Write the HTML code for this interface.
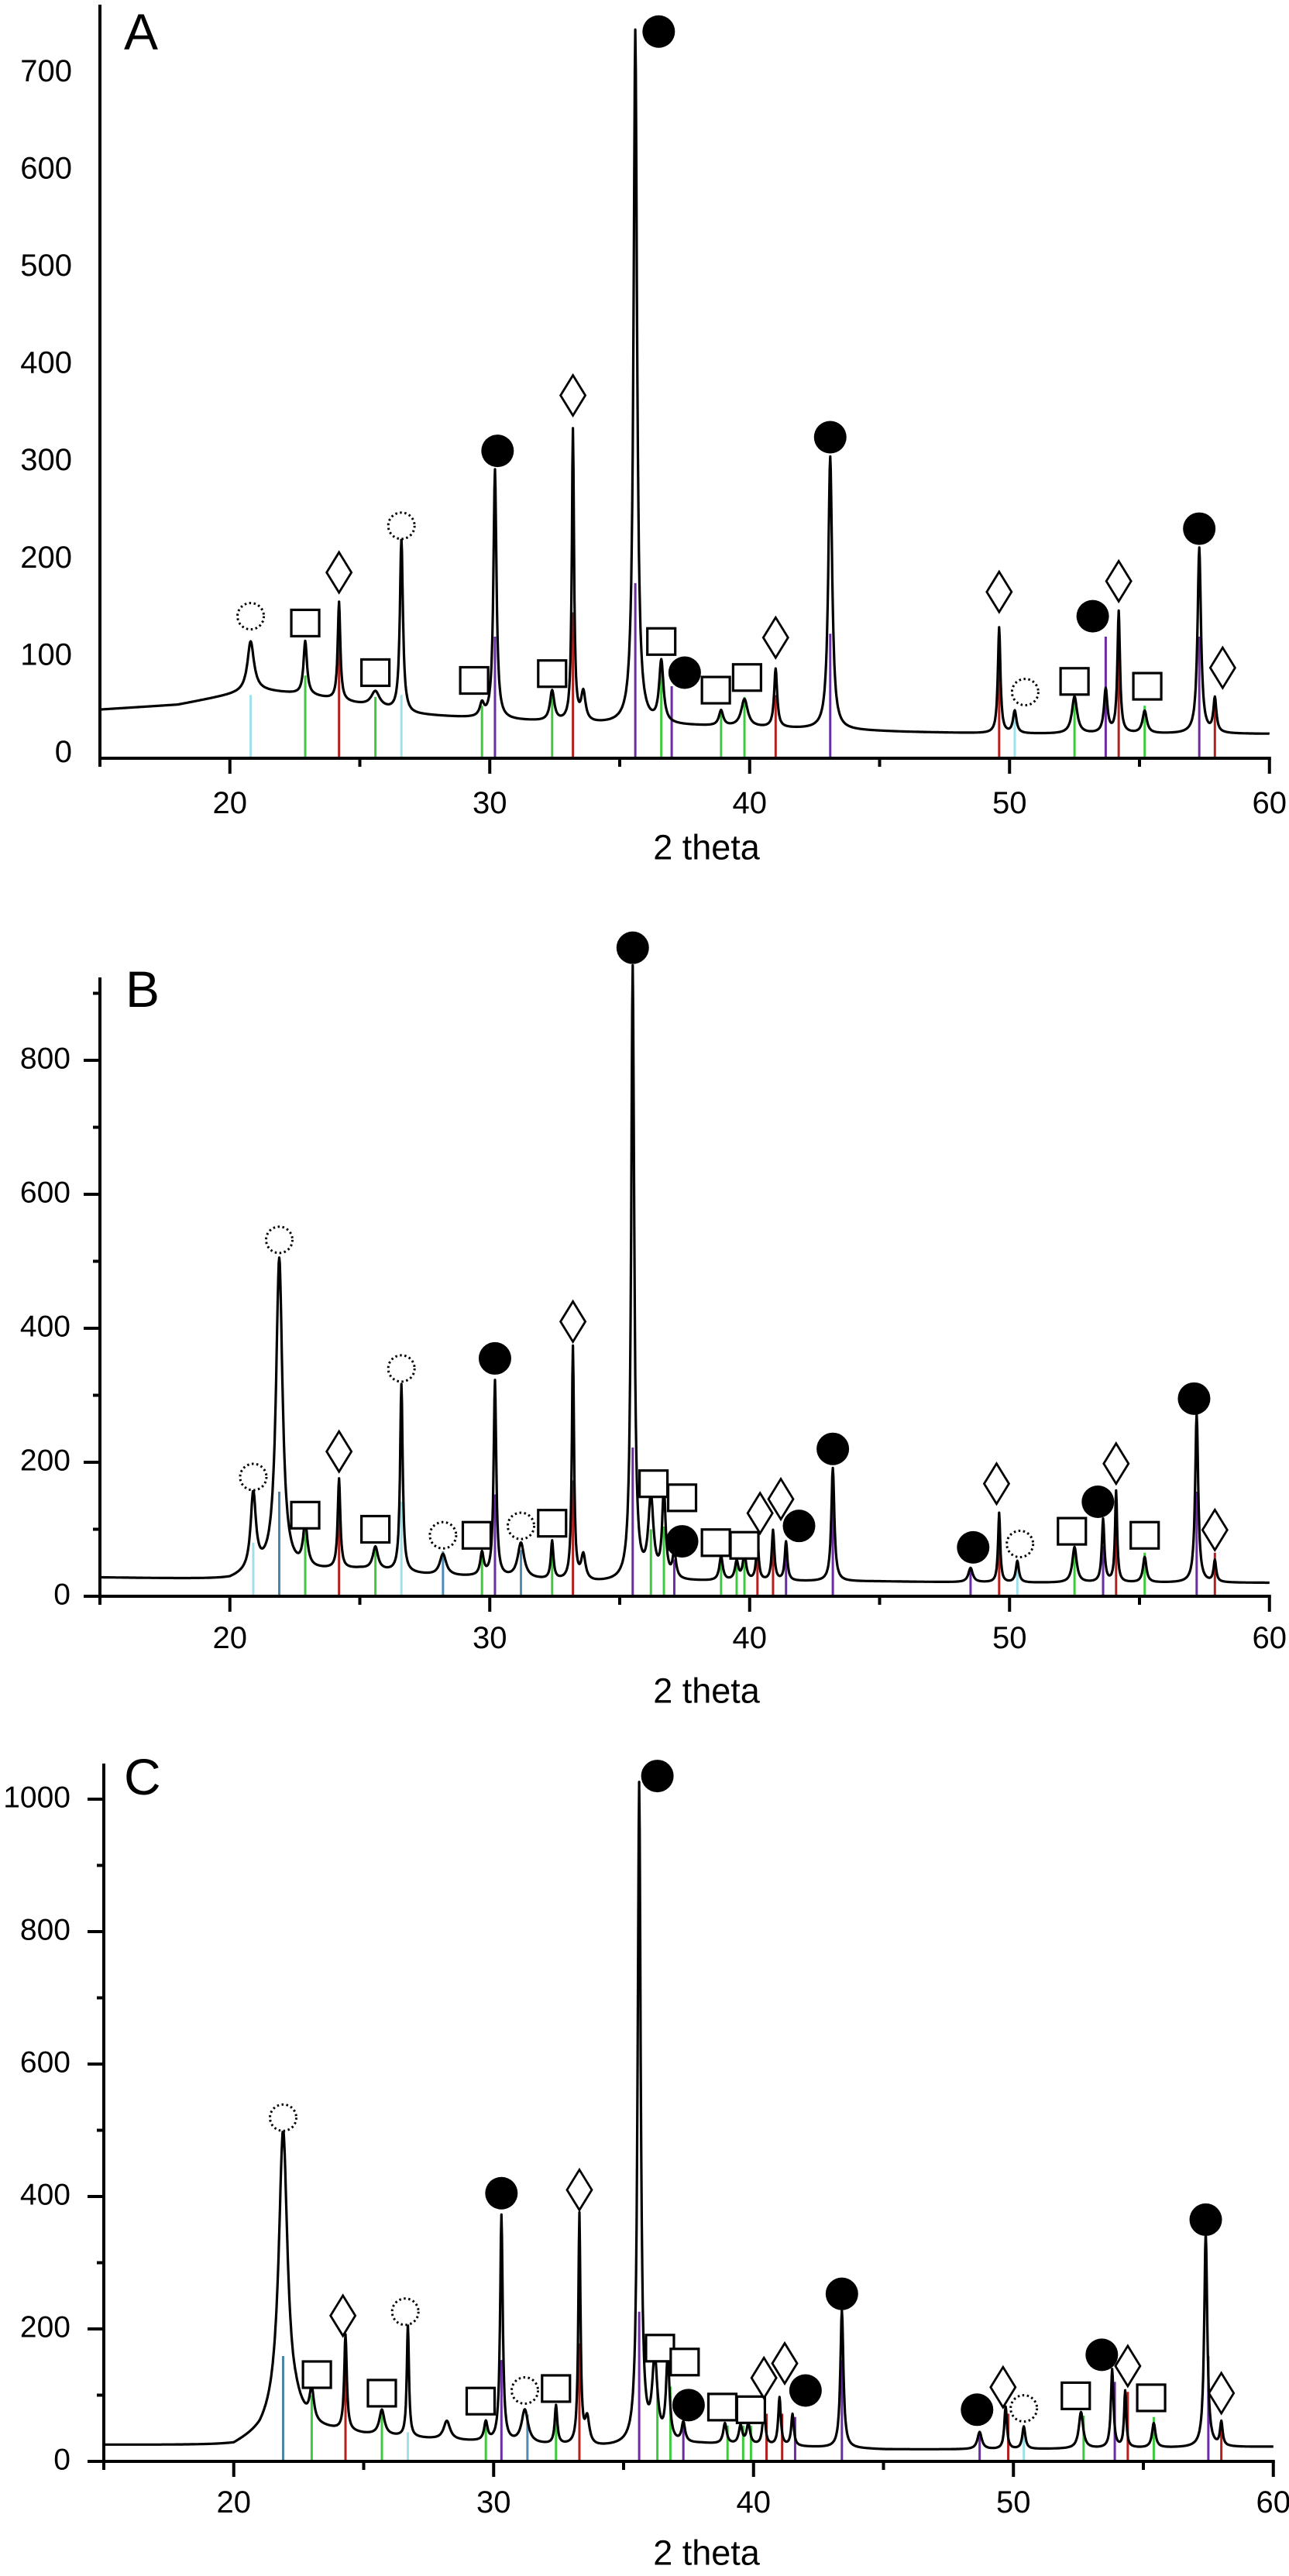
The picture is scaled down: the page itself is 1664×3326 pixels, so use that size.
<!DOCTYPE html>
<html><head><meta charset="utf-8"><title>XRD patterns A B C</title>
<style>
html,body{margin:0;padding:0;background:#fff;}
svg{display:block;}
text{font-family:"Liberation Sans",Arial,sans-serif;fill:#000;}
</style></head>
<body>
<svg id="chart" width="1664" height="3326" viewBox="0 0 1664 3326" xmlns="http://www.w3.org/2000/svg">
<rect x="0" y="0" width="1664" height="3326" fill="#fff"/>
</svg>
<script>
// ---------- Panel A data ----------
const aPeakPos    = [20.8,22.9,24.2,25.6,26.6,29.7,30.2,32.4,33.2,33.6,35.6,36.6,38.9,39.8,41.0,43.1,49.6,50.2,52.5,53.7,54.2,55.2,57.3,57.9];
const aPeakHeight = [120,120,160,68,225,54,296,68,336,65,748,97,48,60,91,310,134,48,63,70,150,48,216,60];
const aPeakWidth  = [0.15,0.08,0.06,0.2,0.07,0.1,0.07,0.1,0.05,0.1,0.08,0.1,0.1,0.15,0.07,0.09,0.06,0.08,0.12,0.08,0.06,0.1,0.08,0.07];
const aBgPos = [15,18,21,23,25,27,30,34,38,42,46,50,55,60];
const aBgVal = [50,55,70,65,55,45,40,35,33,30,27,25,25,25];
const aStickPos    = [20.8,22.9,24.2,25.6,26.6,29.7,30.2,32.4,33.2,35.6,36.6,37.0,38.9,39.8,41.0,43.1,49.6,50.2,52.5,53.7,54.2,55.2,57.3,57.9];
const aStickHeight = [65,85,148,63,65,54,125,63,150,180,97,74,51,63,65,128,100,48,60,125,105,54,125,54];
const aStickPhase  = ['c','g','r','g','c','g','p','g','r','p','g','p','g','g','r','p','r','c','g','p','r','g','p','r'];
const aMarkPos  = [20.8,22.9,24.2,25.6,26.6,29.4,30.3,32.4,33.2,36.5,36.6,37.5,38.7,39.9,41.0,43.1,49.6,50.6,52.5,53.2,54.2,55.3,57.3,58.2];
const aMarkVal  = [146,139,191,88,239,80,316,87,373,747,120,88,70,83,124,330,171,68,79,146,182,74,236,93];
const aMarkType = ['o','s','d','s','o','s','f','s','d','f','s','f','s','s','d','f','d','o','s','f','d','s','f','d'];
const aYTicks = [0,100,200,300,400,500,600,700];
const aXTicks = [20,30,40,50,60];

// ---------- Panel B data ----------
const bPeakPos    = [20.9,21.9,22.9,24.2,25.6,26.6,28.2,29.7,30.2,31.2,32.4,33.2,33.6,35.5,36.2,36.7,37.1,38.9,39.5,39.8,40.3,40.9,41.4,43.2,48.5,49.6,50.3,52.5,53.6,54.1,55.2,57.2,57.9];
const bPeakHeight = [148,503,101,173,72,315,62,62,320,78,80,370,58,937,141,152,60,58,50,60,80,97,80,191,42,124,52,73,114,156,58,272,52];
const bPeakWidth  = [0.12,0.15,0.1,0.06,0.12,0.06,0.15,0.08,0.06,0.15,0.06,0.05,0.1,0.07,0.12,0.08,0.08,0.08,0.08,0.08,0.06,0.06,0.06,0.07,0.1,0.05,0.07,0.1,0.06,0.05,0.08,0.07,0.06];
const bBgPos = [15,20,21,25,28,30,34,38,45,50,55,60];
const bBgVal = [28,25,35,40,30,28,20,22,22,20,20,20];
const bStickPos    = [20.9,21.9,22.9,24.2,25.6,26.6,28.2,29.7,30.2,31.2,32.4,33.2,35.5,36.2,36.7,37.1,38.9,39.5,39.8,40.3,40.9,41.4,43.2,48.5,49.6,50.3,52.5,53.6,54.1,55.2,57.2,57.9];
const bStickHeight = [80,156,100,173,72,141,67,65,152,69,62,173,222,100,104,55,55,55,58,77,77,75,154,42,124,50,67,75,152,65,156,65];
const bStickPhase  = ['c','b','g','r','g','c','s','g','p','s','g','r','p','g','g','p','g','g','g','r','r','p','p','p','r','c','g','p','r','g','p','r'];
const bMarkPos  = [20.9,21.9,22.9,24.2,25.6,26.6,28.2,29.5,30.2,31.2,32.4,33.2,35.5,36.3,37.4,37.4,38.7,39.8,40.4,41.2,41.9,43.2,48.6,49.5,50.4,52.4,53.4,54.1,55.2,57.1,57.9];
const bMarkVal  = [178,532,121,216,100,340,91,91,355,105,109,410,968,168,147,82,80,76,124,145,105,220,73,168,78,97,141,198,91,295,99];
const bMarkType = ['o','o','s','d','s','o','o','s','f','o','s','d','f','s','s','f','s','s','d','d','f','f','f','d','o','s','f','d','s','f','d'];
const bYTicks = [0,100,200,300,400,500,600,700,800,900];
const bYLabels = [0,200,400,600,800];
const bXTicks = [20,30,40,50,60];

// ---------- Panel C data ----------
const cPeakPos    = [21.9,23.0,24.3,25.7,26.7,28.2,29.7,30.3,31.2,32.4,33.3,33.6,35.6,36.2,36.7,37.3,38.9,39.5,39.8,40.4,41.0,41.5,43.4,48.7,49.7,50.4,52.6,53.8,54.3,55.4,57.4,58.0];
const cPeakHeight = [500,100,188,76,206,60,57,370,76,82,370,61,1020,146,153,55,56,52,55,82,95,70,228,44,82,52,74,138,105,57,345,57];
const cPeakWidth  = [0.2,0.1,0.06,0.12,0.05,0.15,0.08,0.06,0.15,0.06,0.05,0.1,0.07,0.12,0.08,0.08,0.08,0.08,0.08,0.06,0.06,0.06,0.07,0.1,0.06,0.07,0.1,0.06,0.05,0.08,0.07,0.06];
const cBgPos = [15,20,21,21.6,22.4,23,25,28,30,34,38,45,50,55,60];
const cBgVal = [25,24,42,65,70,50,40,32,28,21,26,18,18,20,22];
const cStickPos    = [21.9,23.0,24.3,25.7,26.7,29.7,30.3,31.3,32.4,33.3,35.6,36.3,36.8,37.3,39.0,39.6,39.9,40.5,41.1,41.6,43.4,48.7,49.8,50.4,52.7,53.9,54.4,55.4,57.5,58.0];
const cStickHeight = [159,100,177,76,44,57,153,71,67,178,226,107,113,54,54,54,54,72,72,67,153,44,72,54,69,120,105,67,159,54];
const cStickPhase  = ['b','g','r','g','c','g','p','s','g','r','p','g','g','p','g','g','g','r','r','p','p','p','r','c','g','p','r','g','p','r'];
const cMarkPos  = [21.9,23.2,24.2,25.7,26.6,29.5,30.3,31.2,32.4,33.3,36.3,36.4,37.35,37.5,38.8,39.9,40.4,41.2,42.0,43.4,48.6,49.6,50.4,52.4,53.4,54.4,55.3,57.4,58.0];
const cMarkVal  = [519,131,220,103,226,91,405,107,110,410,1035,171,150,85,82,78,126,148,107,253,78,112,80,99,161,144,96,365,103];
const cMarkType = ['o','s','d','s','o','s','f','o','s','d','f','s','s','f','s','s','d','d','f','f','f','d','o','s','f','d','s','f','d'];
const cYTicks = [0,100,200,300,400,500,600,700,800,900,1000];
const cYLabels = [0,200,400,600,800,1000];
const cXTicks = [20,30,40,50,60];

const NS='http://www.w3.org/2000/svg';
const svg=document.getElementById('chart');
const phaseColor={c:'#9fe1ea',g:'#3ec93e',r:'#b3201e',p:'#6b2ca5',s:'#4f8db5',b:'#4a86ab'};

function mk(tag,attrs,parent){const e=document.createElementNS(NS,tag);for(const k in attrs)e.setAttribute(k,attrs[k]);(parent||svg).appendChild(e);return e;}
function interp(xs,ys,t){if(t<=xs[0])return ys[0];for(let i=1;i<xs.length;i++){if(t<=xs[i]){const f=(t-xs[i-1])/(xs[i]-xs[i-1]);return ys[i-1]+f*(ys[i]-ys[i-1]);}}return ys[ys.length-1];}

function drawPanel(P){
  const g=mk('g',{});
  
  
  const X=t=>P.x0+(t-15)*P.kx;
  const Y=v=>P.y0-v*P.ky;
  for(let i=0;i<P.sp.length;i++){
    const l=mk('line',{x1:X(P.sp[i]),x2:X(P.sp[i]),y1:P.y0,y2:Y(P.sh[i]),stroke:phaseColor[P.sc[i]],'stroke-width':3},g);
    
    
  }
  let d='';
  for(let t=15;t<=60.0001;t+=0.02){
    let v=interp(P.bx,P.by,t);
    for(let i=0;i<P.pp.length;i++){
      const net=P.ph[i]-interp(P.bx,P.by,P.pp[i]);
      const u=(t-P.pp[i])/P.pw[i];
      v+=net/(1+u*u);
    }
    d+=(d?'L':'M')+X(t).toFixed(1)+' '+Y(v).toFixed(1);
  }
  const c=mk('path',{d:d,fill:'none',stroke:'#000','stroke-width':3.2,'stroke-linejoin':'round'},g);
  
  
  const ya=mk('line',{x1:P.x0,x2:P.x0,y1:P.top,y2:P.y0+2,stroke:'#000','stroke-width':4},g);
  
  
  const xa=mk('line',{x1:P.x0-2,x2:X(60)+2,y1:P.y0,y2:P.y0,stroke:'#000','stroke-width':4},g);
  
  
  for(let t=15;t<=60;t+=5){
    const major=(t%10===0);
    const tk=mk('line',{x1:X(t),x2:X(t),y1:P.y0,y2:P.y0+(major?20:11),stroke:'#000','stroke-width':4},g);
    
    
  }
  P.xt.forEach(t=>{
    const tx=mk('text',{x:X(t),y:P.xly,'font-size':40,'text-anchor':'middle','dominant-baseline':'central'},g);
    
    
    tx.textContent=t;
  });
  if(P.yticks){
    P.yticks.forEach(v=>{
      const lab=P.ylabels.indexOf(v)>=0;
      const tk=mk('line',{x1:P.x0-(lab?21:9),x2:P.x0,y1:Y(v),y2:Y(v),stroke:'#000','stroke-width':4},g);
      
      
    });
  }
  P.ylabels.forEach(v=>{
    const tx=mk('text',{x:P.ylx,y:Y(v)-(P.yoff||0),'font-size':P.yfs,'text-anchor':'end','dominant-baseline':'central'},g);
    
    
    tx.textContent=v;
  });
  const xt=mk('text',{x:912,y:P.titley,'font-size':45,'text-anchor':'middle','dominant-baseline':'central'},g);
  
  
  xt.textContent='2 theta';
  const pl=mk('text',{x:P.lx,y:P.ly,'font-size':66},g);
  
  
  pl.textContent=P.id;
  for(let i=0;i<P.mp.length;i++){
    const cx=X(P.mp[i]),cy=Y(P.mv[i]),tp=P.mt[i];
    let m;
    if(tp==='f'){m=mk('circle',{cx:cx,cy:cy,r:21,fill:'#000'},g);}
    else if(tp==='o'){m=mk('circle',{cx:cx,cy:cy,r:17,fill:'#fff',stroke:'#000','stroke-width':3,'stroke-dasharray':'2.5 3.5'},g);}
    else if(tp==='s'){m=mk('rect',{x:cx-18,y:cy-17,width:36,height:34,fill:'#fff',stroke:'#000','stroke-width':3.2},g);}
    else {m=mk('polygon',{points:`${cx},${cy-26} ${cx+16},${cy} ${cx},${cy+26} ${cx-16},${cy}`,fill:'#fff',stroke:'#000','stroke-width':2.8},g);}
    
  }
}

drawPanel({id:'A',x0:129,kx:33.55,y0:979,ky:1.256,top:6,
  pp:aPeakPos,ph:aPeakHeight,pw:aPeakWidth,bx:aBgPos,by:aBgVal,
  sp:aStickPos,sh:aStickHeight,sc:aStickPhase,mp:aMarkPos,mv:aMarkVal,mt:aMarkType,
  xt:aXTicks,xly:1037,yticks:null,ylabels:aYTicks,ylx:93,yfs:40,yoff:8,titley:1094,lx:160,ly:64});
drawPanel({id:'B',x0:129,kx:33.55,y0:2061,ky:0.865,top:1262,
  pp:bPeakPos,ph:bPeakHeight,pw:bPeakWidth,bx:bBgPos,by:bBgVal,
  sp:bStickPos,sh:bStickHeight,sc:bStickPhase,mp:bMarkPos,mv:bMarkVal,mt:bMarkType,
  xt:bXTicks,xly:2115,yticks:bYTicks,ylabels:bYLabels,ylx:91,yfs:39,yoff:2,titley:2183,lx:162,ly:1300});
drawPanel({id:'C',x0:134,kx:33.55,y0:3178,ky:0.855,top:2277,
  pp:cPeakPos,ph:cPeakHeight,pw:cPeakWidth,bx:cBgPos,by:cBgVal,
  sp:cStickPos,sh:cStickHeight,sc:cStickPhase,mp:cMarkPos,mv:cMarkVal,mt:cMarkType,
  xt:cXTicks,xly:3231,yticks:cYTicks,ylabels:cYLabels,ylx:91,yfs:39,yoff:2,titley:3296,lx:160,ly:2317});
</script>
</body></html>
